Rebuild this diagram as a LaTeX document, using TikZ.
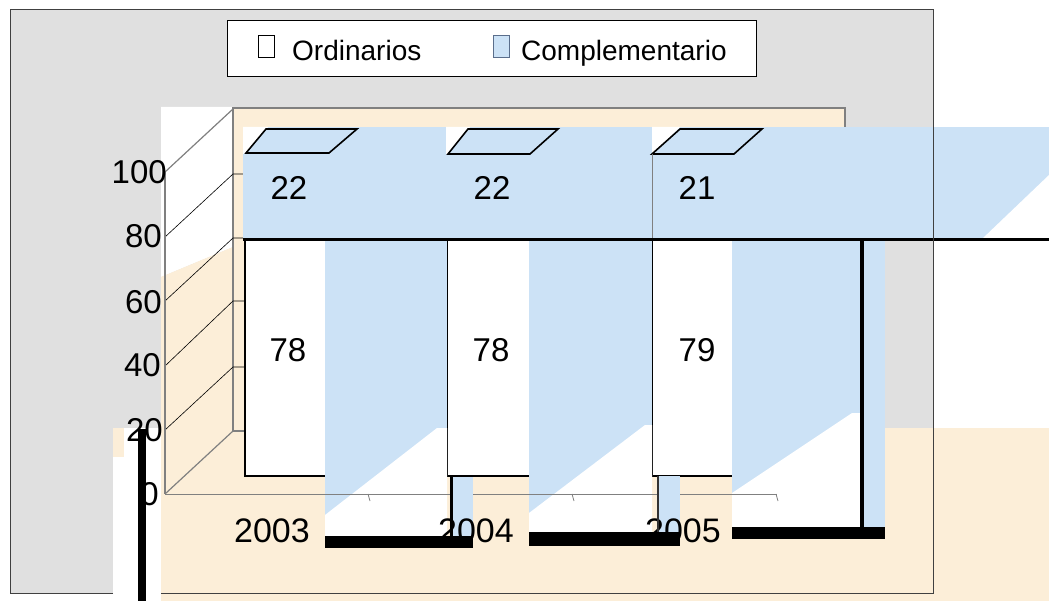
\documentclass[tikz,border=0pt]{standalone}
\usepackage{fontspec}
\setmainfont{Liberation Sans}
\definecolor{speck}{RGB}{224,224,224}
\definecolor{peach}{RGB}{252,238,216}
\definecolor{iceblue}{RGB}{204,226,246}
\definecolor{wallgray}{RGB}{128,128,128}
\definecolor{markerblue}{RGB}{90,110,140}
\tikzset{
  axlbl/.style={font=\fontsize{33}{36}\selectfont, anchor=east, inner sep=0pt},
  datlbl/.style={font=\fontsize{33}{36}\selectfont, inner sep=0pt},
  yearlbl/.style={font=\fontsize{34}{36}\selectfont, inner sep=0pt},
  leglbl/.style={font=\fontsize{28}{30}\selectfont, anchor=base west, inner sep=0pt},
  gridln/.style={black, line width=0.6pt},
  wallln/.style={wallgray, line width=1.2pt},
  blackbar/.style={fill=black, draw=none},
  bartop/.style={fill=iceblue, draw=black, line width=1.6pt, line join=miter},
  baredge/.style={black, line width=1.6pt},
}
\begin{document}
\begin{tikzpicture}[x=1pt,y=-1pt]
\useasboundingbox (0,0) rectangle (1049,601);
% backgrounds
\fill[white] (0,0) rectangle (1049,601);
\fill[speck] (10,10) rectangle (933,593);
\fill[white] (161,107) -- (233,107) -- (233,247) -- (161,277) -- cycle;
\fill[peach] (161,277) -- (233,247) -- (233,428) -- (1049,428) -- (1049,601) -- (161,601) -- cycle;
\fill[white] (113,428) rectangle (161,601);
\fill[peach] (113,428) rectangle (124,457);
% back wall
\draw[wallln, fill=peach] (233,108) rectangle (845,431);
% side-wall gridlines
\draw[wallln] (165,172) -- (233,109);
\draw[gridln] (165,237) -- (233,174) -- (245,174);
\draw[gridln] (165,301) -- (233,238) -- (245,238);
\draw[gridln] (165,366) -- (233,301) -- (245,301);
\draw[gridln] (165,430) -- (233,367) -- (245,367);
\draw[wallln] (165,494) -- (233,431) -- (245,431);
\draw[wallln] (165,172) -- (165,494);
% blue band
\fill[iceblue] (243,127) rectangle (1049,238);
\fill[white] (243,127) -- (268,127) -- (245,154) -- (243,154) -- cycle;
\fill[white] (446,127) -- (470,127) -- (448,154) -- (446,154) -- cycle;
\fill[white] (652,127) -- (680,127) -- (653,154) -- (652,154) -- cycle;
\fill[white] (982,239) -- (1049,239) -- (1049,175) -- cycle;
% bar tops
\draw[bartop] (246,153) -- (329,153) -- (357,129) -- (266,129) -- cycle;
\draw[bartop] (448,154) -- (530,154) -- (558,129) -- (468,129) -- cycle;
\draw[bartop] (652,154) -- (734,154) -- (762,129) -- (680,129) -- cycle;
\draw[wallgray, line width=0.8pt] (652,154) -- (652,238);
% white bars
\fill[white] (245,240) rectangle (325,476);
\fill[white] (447,240) rectangle (530,476);
\fill[white] (652,240) rectangle (732,476);
\draw[baredge] (245,240) -- (245,476) -- (325,476);
\draw[baredge] (447,240) -- (447,476) -- (530,476);
\draw[baredge] (652,240) -- (652,476) -- (732,476);
% blue columns with white cut-outs
\fill[iceblue] (325,240) rectangle (447,536);
\fill[white] (325,515) -- (437,428) -- (447,428) -- (447,536) -- (325,536) -- cycle;
\fill[iceblue] (529,240) rectangle (652,532);
\fill[white] (529,513) -- (645,425) -- (652,425) -- (652,532) -- (529,532) -- cycle;
\fill[iceblue] (732,240) rectangle (860,527);
\fill[white] (732,493) -- (852,413) -- (860,413) -- (860,527) -- (732,527) -- cycle;
% category axis
\draw[wallgray, line width=0.9pt] (165,494) -- (777,494);
\draw[wallgray, line width=0.8pt] (368,494) -- (370,501);
\draw[wallgray, line width=0.8pt] (572,494) -- (574,501);
\draw[wallgray, line width=0.8pt] (776,494) -- (778,501);
% strips below bars
\fill[iceblue] (452,477) rectangle (473,536);
\fill[iceblue] (658,476) rectangle (680,532);
\fill[iceblue] (863,240) rectangle (885,527);
% value axis labels
\node[axlbl] (l100) at (167,172) {100};
\node[axlbl] (l80) at (162,236) {80};
\node[axlbl] (l60) at (162,302) {60};
\node[axlbl] (l40) at (161,365) {40};
\node[axlbl] (l20) at (163,430) {20};
\node[axlbl] (l0) at (159,494) {0};
% data labels
\node[datlbl] (d1a) at (289,188) {22};
\node[datlbl] (d2a) at (492,188) {22};
\node[datlbl] (d3a) at (697,188) {21};
\node[datlbl] (d1b) at (288,350) {78};
\node[datlbl] (d2b) at (491,350) {78};
\node[datlbl] (d3b) at (697,350) {79};
% category labels
\node[yearlbl] (y1) at (272,531) {2003};
\node[yearlbl] (y2) at (476,531) {2004};
\node[yearlbl] (y3) at (683,531) {2005};
% black lines and bars over the labels
\fill[black] (450,477) rectangle (453,536);
\fill[black!80] (656.5,476) rectangle (659,532);
\fill[black] (860,240) rectangle (864,527);
\fill[blackbar] (325,536) rectangle (473,548);
\fill[blackbar] (529,532) rectangle (680,546);
\fill[blackbar] (732,527) rectangle (885,539);
\fill[blackbar] (138,429) rectangle (146,601);
% thick horizontal line
\draw[black, line width=3pt] (243,239.5) -- (1049,239.5);
% frame
\draw[black!75, line width=1pt] (113,593) -- (10,593) -- (10,10) -- (933,10) -- (933,593) -- (161,593);
% legend
\node[draw=black, fill=white, line width=1pt, minimum width=529pt, minimum height=56pt, inner sep=0pt, anchor=north west] (legend) at (227,20) {};
\draw[black, line width=1pt, fill=white] (258,36) rectangle (274,58);
\node[leglbl] (lg1) at (292,61) {Ordinarios};
\draw[markerblue, line width=1pt, fill=iceblue] (493,36) rectangle (509,58);
\node[leglbl] (lg2) at (521,61) {Complementario};
\end{tikzpicture}
\end{document}
